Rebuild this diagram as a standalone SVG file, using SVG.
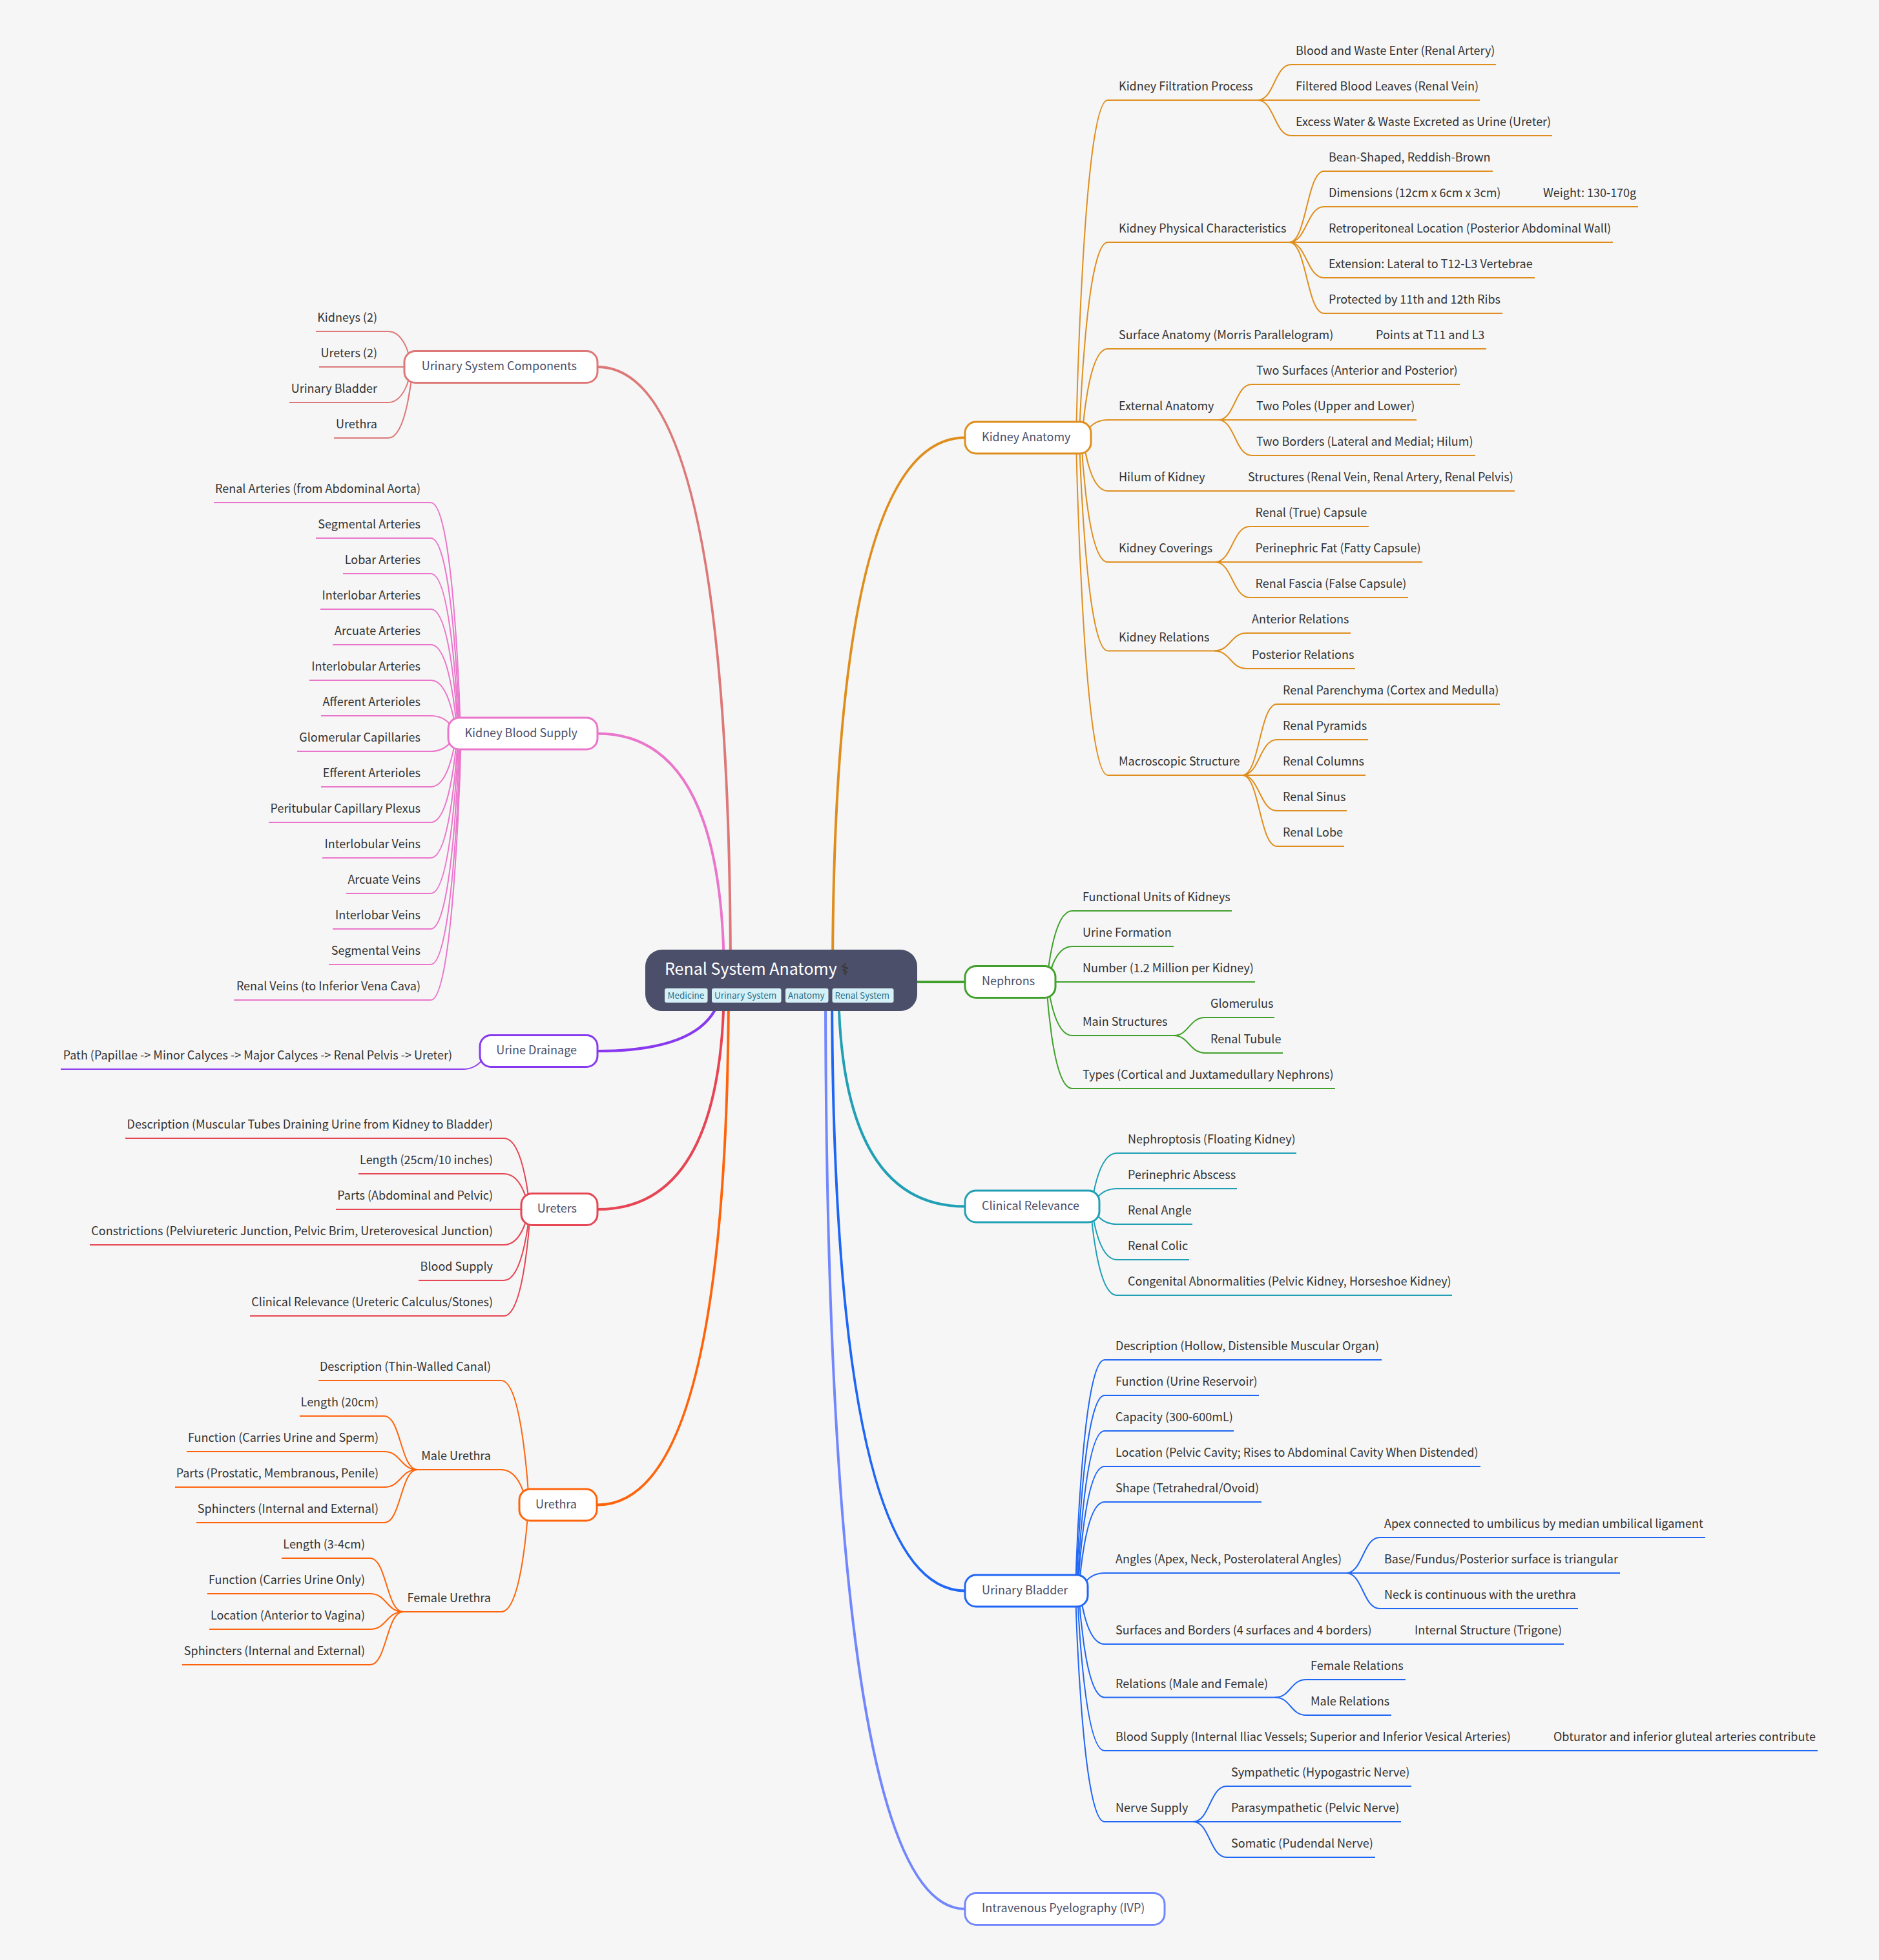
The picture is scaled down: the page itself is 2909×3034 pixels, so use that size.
<svg xmlns="http://www.w3.org/2000/svg" width="2909" height="3034" viewBox="0 0 2909 3034">
<style>
text{font-family:"Noto Sans CJK SC","Noto Sans CJK JP","DejaVu Sans",sans-serif;font-size:18px;fill:#333}
.e{text-anchor:end}
.m{fill:#4c4f69}
#conn path{fill:none;stroke-width:2}
#conn path.b{stroke-width:4}
.o{stroke:#df8e1d}.g{stroke:#40a02b}.c{stroke:#209fb5}.u{stroke:#1e66f5}.i{stroke:#7287fd}
.f{stroke:#dd7878}.p{stroke:#ea76cb}.v{stroke:#8839ef}.r{stroke:#e64553}.h{stroke:#fe640b}
rect.n{fill:#fff;stroke-width:3}
.tag{fill:#d6f0f8}.tt{font-size:13.500px;fill:#276f86}
</style>
<rect width="2909" height="3034" fill="#f6f6f6"/>
<g id="conn">
<g class="f"><path class="b" d="M1131 1517Q1131 568 925 568"/>
<path d="M637.4 568C637.4 568 630 513 601 513H489"/><path d="M637 568H494"/><path d="M637.4 568C637.4 568 630 623 601 623H448"/><path d="M638.7 568C638.7 568 631 678 601 678H517"/></g>
<g class="p"><path class="b" d="M1121 1517Q1121 1135.5 925 1135.5"/>
<path d="M713 1135.5C713 1135.5 704 778 667 778H331"/><path d="M711.5 1135.5C711.5 1135.5 703 833 667 833H489"/><path d="M710 1135.5C710 1135.5 701.5 888 667 888H531"/><path d="M709 1135.5C709 1135.5 700.5 943 667 943H496"/><path d="M707.5 1135.5C707.5 1135.5 699.5 998 667 998H515"/><path d="M706 1135.5C706 1135.5 698 1053 667 1053H479"/><path d="M705 1135.5C705 1135.5 697 1108 667 1108H497"/><path d="M705 1135.5C705 1135.5 697 1163 667 1163H460"/><path d="M706 1135.5C706 1135.5 698 1218 667 1218H497"/><path d="M707.5 1135.5C707.5 1135.5 699.5 1273 667 1273H416"/><path d="M709 1135.5C709 1135.5 700.5 1328 667 1328H499"/><path d="M710 1135.5C710 1135.5 701.5 1383 667 1383H536"/><path d="M711.5 1135.5C711.5 1135.5 703 1438 667 1438H515"/><path d="M713 1135.5C713 1135.5 704 1493 667 1493H509"/><path d="M714 1135.5C714 1135.5 704.6 1548 667 1548H362"/></g>
<g class="v"><path class="b" d="M1118 1517Q1118 1627 925 1627"/>
<path d="M753.7 1627C753.7 1627 746 1655 717 1655H94"/></g>
<g class="r"><path class="b" d="M1121 1517Q1121 1872 925 1872"/>
<path d="M820 1872C820 1872 812 1762 780 1762H194"/><path d="M818.4 1872C818.4 1872 811 1817 780 1817H555"/><path d="M818 1872H520"/><path d="M818.4 1872C818.4 1872 811 1927 780 1927H139"/><path d="M820 1872C820 1872 812 1982 780 1982H648"/><path d="M821 1872C821 1872 813 2037 780 2037H387"/></g>
<g class="h"><path class="b" d="M1128 1517Q1128 2329.5 925 2329.5"/>
<path d="M819 2329.5C819 2329.5 810 2137 776 2137H493"/><path d="M815.4 2329.5C815.4 2329.5 807.5 2275 776 2275H646"/><path d="M818 2329.5C818 2329.5 809.5 2495 776 2495H624"/>
<path d="M646 2275C620.5 2275 620.5 2192 595 2192H464"/><path d="M646 2275C620.5 2275 620.5 2247 595 2247H289"/><path d="M646 2275C620.5 2275 620.5 2302 595 2302H271"/><path d="M646 2275C620.5 2275 620.5 2357 595 2357H304"/>
<path d="M624 2495C598.5 2495 598.5 2412 573 2412H436"/><path d="M624 2495C598.5 2495 598.5 2467 573 2467H321"/><path d="M624 2495C598.5 2495 598.5 2522 573 2522H324"/><path d="M624 2495C598.5 2495 598.5 2577 573 2577H282"/></g>
<g class="o"><path class="b" d="M1289 1517Q1289 677.5 1494 677.5"/>
<path d="M1666 677.5C1666 677.5 1676 155 1715 155H1947"/><path d="M1671 677.5C1671 677.5 1680 375 1715 375H1996"/><path d="M1675.5 677.5C1675.5 677.5 1683 540 1715 540H2301"/><path d="M1678 677.5C1678 677.5 1685 650 1715 650H1886"/><path d="M1677 677.5C1677 677.5 1685 760 1715 760H2345"/><path d="M1674 677.5C1674 677.5 1682 870 1715 870H1881"/><path d="M1671 677.5C1671 677.5 1680 1007.5 1715 1007.5H1880"/><path d="M1666 677.5C1666 677.5 1676 1200 1715 1200H1923.5"/>
<path d="M1947 155C1973 155 1973 100 1999 100H2316"/><path d="M1947 155H2291"/><path d="M1947 155C1973 155 1973 210 1999 210H2403"/>
<path d="M1996 375C2023 375 2023 265 2050 265H2311"/><path d="M1996 375C2023 375 2023 320 2050 320H2536"/><path d="M1996 375H2497"/><path d="M1996 375C2023 375 2023 430 2050 430H2376"/><path d="M1996 375C2023 375 2023 485 2050 485H2326"/>
<path d="M1886 650C1912 650 1912 595 1938 595H2260"/><path d="M1886 650H2193"/><path d="M1886 650C1912 650 1912 705 1938 705H2284"/>
<path d="M1881 870C1908 870 1908 815 1935 815H2119"/><path d="M1881 870H2202"/><path d="M1881 870C1908 870 1908 925 1935 925H2180"/>
<path d="M1880 1007.5C1905 1007.5 1905 980 1930 980H2091"/><path d="M1880 1007.5C1905 1007.5 1905 1035 1930 1035H2098"/>
<path d="M1923.5 1200C1950 1200 1950 1090 1977 1090H2322"/><path d="M1923.5 1200C1950 1200 1950 1145 1977 1145H2118"/><path d="M1923.5 1200H2114"/><path d="M1923.5 1200C1950 1200 1950 1255 1977 1255H2085"/><path d="M1923.5 1200C1950 1200 1950 1310 1977 1310H2081"/></g>
<g class="g"><path class="b" d="M1300 1517Q1300 1520 1494 1520"/>
<path d="M1621 1520C1621 1520 1629 1410 1660 1410H1907"/><path d="M1622.6 1520C1622.6 1520 1630 1465 1660 1465H1817"/><path d="M1622 1520H1943"/><path d="M1622 1520C1622 1520 1630 1603 1660 1603H1817"/><path d="M1620 1520C1620 1520 1628 1685 1660 1685H2067"/>
<path d="M1817 1603C1841 1603 1841 1575 1866 1575H1973"/><path d="M1817 1603C1841 1603 1841 1630 1866 1630H1986"/></g>
<g class="c"><path class="b" d="M1298 1517Q1298 1867.5 1494 1867.5"/>
<path d="M1690 1867.5C1690 1867.5 1698 1785 1729 1785H2007"/><path d="M1691 1867.5C1691 1867.5 1699 1840 1729 1840H1915"/><path d="M1691 1867.5C1691 1867.5 1699 1895 1729 1895H1846"/><path d="M1690 1867.5C1690 1867.5 1698 1950 1729 1950H1841"/><path d="M1688.5 1867.5C1688.5 1867.5 1697 2005 1729 2005H2248"/></g>
<g class="u"><path class="b" d="M1288 1517Q1288 2462.5 1494 2462.5"/>
<path d="M1665 2462.5C1665 2462.5 1674 2105 1710 2105H2139"/><path d="M1666.5 2462.5C1666.5 2462.5 1675 2160 1710 2160H1949"/><path d="M1668 2462.5C1668 2462.5 1676.5 2215 1710 2215H1910"/><path d="M1669 2462.5C1669 2462.5 1677 2270 1710 2270H2292"/><path d="M1670.5 2462.5C1670.5 2462.5 1678 2325 1710 2325H1953"/><path d="M1673 2462.5C1673 2462.5 1680.5 2435 1710 2435H2084"/><path d="M1672 2462.5C1672 2462.5 1680 2545 1710 2545H2421"/><path d="M1670 2462.5C1670 2462.5 1678 2627.5 1710 2627.5H1974"/><path d="M1668 2462.5C1668 2462.5 1676.5 2710 1710 2710H2814"/><path d="M1665 2462.5C1665 2462.5 1674 2820 1710 2820H1847"/>
<path d="M2084 2435C2110 2435 2110 2380 2136 2380H2640"/><path d="M2084 2435H2508"/><path d="M2084 2435C2110 2435 2110 2490 2136 2490H2443"/>
<path d="M1974 2627.5C1998 2627.5 1998 2600 2022 2600H2176"/><path d="M1974 2627.5C1998 2627.5 1998 2655 2022 2655H2154"/>
<path d="M1847 2820C1873 2820 1873 2765 1899 2765H2185"/><path d="M1847 2820H2169"/><path d="M1847 2820C1873 2820 1873 2875 1899 2875H2129"/></g>
<g class="i"><path class="b" d="M1278 1517Q1278 2955 1494 2955"/></g>
</g>
<g id="root"><rect x="999" y="1470" width="421" height="95" rx="26" fill="#4c4f69"/>
<text x="1029" y="1509" style="font-size:25px;fill:#fff">Renal System Anatomy <tspan style="fill:#333">⚕</tspan></text>
<rect class="tag" x="1029" y="1530" width="66.500" height="22" rx="3"/><text class="tt" x="1033.500" y="1546">Medicine</text>
<rect class="tag" x="1102" y="1530" width="107.500" height="22" rx="3"/><text class="tt" x="1106" y="1546">Urinary System</text>
<rect class="tag" x="1216" y="1530" width="66.500" height="22" rx="3"/><text class="tt" x="1220" y="1546">Anatomy</text>
<rect class="tag" x="1288.500" y="1530" width="95" height="22" rx="3"/><text class="tt" x="1292.500" y="1546">Renal System</text></g>
<g id="kidney-anatomy"><rect class="n o" x="1494" y="653" width="195" height="49" rx="17"/><text class="m" x="1520" y="683">Kidney Anatomy</text></g>
<g id="nephrons"><rect class="n g" x="1494" y="1495.500" width="140" height="49" rx="17"/><text class="m" x="1520" y="1525">Nephrons</text></g>
<g id="clinical-relevance"><rect class="n c" x="1494" y="1843" width="208" height="49" rx="17"/><text class="m" x="1520" y="1872.500">Clinical Relevance</text></g>
<g id="urinary-bladder"><rect class="n u" x="1494" y="2438" width="190" height="49" rx="17"/><text class="m" x="1520" y="2467.500">Urinary Bladder</text></g>
<g id="ivp"><rect class="n i" x="1494" y="2930.500" width="309" height="49" rx="17"/><text class="m" x="1520" y="2960">Intravenous Pyelography (IVP)</text></g>
<g id="urinary-components"><rect class="n f" x="626" y="543.500" width="299" height="49" rx="17"/><text class="m e" x="893" y="573">Urinary System Components</text></g>
<g id="blood-supply"><rect class="n p" x="694" y="1111" width="231" height="49" rx="17"/><text class="m e" x="894" y="1140.500">Kidney Blood Supply</text></g>
<g id="urine-drainage"><rect class="n v" x="743" y="1602.500" width="182" height="49" rx="17"/><text class="m e" x="893" y="1632">Urine Drainage</text></g>
<g id="ureters"><rect class="n r" x="807" y="1847.500" width="118" height="49" rx="17"/><text class="m e" x="893" y="1877">Ureters</text></g>
<g id="urethra"><rect class="n h" x="804" y="2305" width="120" height="49" rx="17"/><text class="m e" x="893" y="2334.500">Urethra</text></g>
<g id="leaves-right-kidney">
<g id="k1"><text x="1732" y="140">Kidney Filtration Process</text></g>
<g id="k1a"><text x="2006" y="85">Blood and Waste Enter (Renal Artery)</text></g>
<g id="k1b"><text x="2006" y="140">Filtered Blood Leaves (Renal Vein)</text></g>
<g id="k1c"><text x="2006" y="195">Excess Water &amp; Waste Excreted as Urine (Ureter)</text></g>
<g id="k2"><text x="1732" y="360">Kidney Physical Characteristics</text></g>
<g id="k2a"><text x="2057" y="250">Bean-Shaped, Reddish-Brown</text></g>
<g id="k2b"><text x="2057" y="305">Dimensions (12cm x 6cm x 3cm)</text></g>
<g id="k2b1"><text x="2389" y="305">Weight: 130-170g</text></g>
<g id="k2c"><text x="2057" y="360">Retroperitoneal Location (Posterior Abdominal Wall)</text></g>
<g id="k2d"><text x="2057" y="415">Extension: Lateral to T12-L3 Vertebrae</text></g>
<g id="k2e"><text x="2057" y="470">Protected by 11th and 12th Ribs</text></g>
<g id="k3"><text x="1732" y="525">Surface Anatomy (Morris Parallelogram)</text></g>
<g id="k3a"><text x="2130" y="525">Points at T11 and L3</text></g>
<g id="k4"><text x="1732" y="635">External Anatomy</text></g>
<g id="k4a"><text x="1945" y="580">Two Surfaces (Anterior and Posterior)</text></g>
<g id="k4b"><text x="1945" y="635">Two Poles (Upper and Lower)</text></g>
<g id="k4c"><text x="1945" y="690">Two Borders (Lateral and Medial; Hilum)</text></g>
<g id="k5"><text x="1732" y="745">Hilum of Kidney</text></g>
<g id="k5a"><text x="1932" y="745">Structures (Renal Vein, Renal Artery, Renal Pelvis)</text></g>
<g id="k6"><text x="1732" y="855">Kidney Coverings</text></g>
<g id="k6a"><text x="1943.500" y="800">Renal (True) Capsule</text></g>
<g id="k6b"><text x="1943.500" y="855">Perinephric Fat (Fatty Capsule)</text></g>
<g id="k6c"><text x="1943.500" y="910">Renal Fascia (False Capsule)</text></g>
<g id="k7"><text x="1732" y="992.500">Kidney Relations</text></g>
<g id="k7a"><text x="1938" y="965">Anterior Relations</text></g>
<g id="k7b"><text x="1938" y="1020">Posterior Relations</text></g>
<g id="k8"><text x="1732" y="1185">Macroscopic Structure</text></g>
<g id="k8a"><text x="1986" y="1075">Renal Parenchyma (Cortex and Medulla)</text></g>
<g id="k8b"><text x="1986" y="1130">Renal Pyramids</text></g>
<g id="k8c"><text x="1986" y="1185">Renal Columns</text></g>
<g id="k8d"><text x="1986" y="1240">Renal Sinus</text></g>
<g id="k8e"><text x="1986" y="1295">Renal Lobe</text></g>
</g>
<g id="leaves-right-nephrons">
<g id="n1"><text x="1676" y="1395">Functional Units of Kidneys</text></g>
<g id="n2"><text x="1676" y="1450">Urine Formation</text></g>
<g id="n3"><text x="1676" y="1505">Number (1.2 Million per Kidney)</text></g>
<g id="n4"><text x="1676" y="1588">Main Structures</text></g>
<g id="n4a"><text x="1874" y="1560">Glomerulus</text></g>
<g id="n4b"><text x="1874" y="1615">Renal Tubule</text></g>
<g id="n5"><text x="1676" y="1670">Types (Cortical and Juxtamedullary Nephrons)</text></g>
</g>
<g id="leaves-right-clinical">
<g id="c1"><text x="1746" y="1770">Nephroptosis (Floating Kidney)</text></g>
<g id="c2"><text x="1746" y="1825">Perinephric Abscess</text></g>
<g id="c3"><text x="1746" y="1880">Renal Angle</text></g>
<g id="c4"><text x="1746" y="1935">Renal Colic</text></g>
<g id="c5"><text x="1746" y="1990">Congenital Abnormalities (Pelvic Kidney, Horseshoe Kidney)</text></g>
</g>
<g id="leaves-right-bladder">
<g id="b1"><text x="1727" y="2090">Description (Hollow, Distensible Muscular Organ)</text></g>
<g id="b2"><text x="1727" y="2145">Function (Urine Reservoir)</text></g>
<g id="b3"><text x="1727" y="2200">Capacity (300-600mL)</text></g>
<g id="b4"><text x="1727" y="2255">Location (Pelvic Cavity; Rises to Abdominal Cavity When Distended)</text></g>
<g id="b5"><text x="1727" y="2310">Shape (Tetrahedral/Ovoid)</text></g>
<g id="b6"><text x="1727" y="2420">Angles (Apex, Neck, Posterolateral Angles)</text></g>
<g id="b6a"><text x="2143" y="2365">Apex connected to umbilicus by median umbilical ligament</text></g>
<g id="b6b"><text x="2143" y="2420">Base/Fundus/Posterior surface is triangular</text></g>
<g id="b6c"><text x="2143" y="2475">Neck is continuous with the urethra</text></g>
<g id="b7"><text x="1727" y="2530">Surfaces and Borders (4 surfaces and 4 borders)</text></g>
<g id="b7a"><text x="2190" y="2530">Internal Structure (Trigone)</text></g>
<g id="b8"><text x="1727" y="2612.500">Relations (Male and Female)</text></g>
<g id="b8a"><text x="2029" y="2585">Female Relations</text></g>
<g id="b8b"><text x="2029" y="2640">Male Relations</text></g>
<g id="b9"><text x="1727" y="2695">Blood Supply (Internal Iliac Vessels; Superior and Inferior Vesical Arteries)</text></g>
<g id="b9a"><text x="2405" y="2695">Obturator and inferior gluteal arteries contribute</text></g>
<g id="b10"><text x="1727" y="2805">Nerve Supply</text></g>
<g id="b10a"><text x="1906" y="2750">Sympathetic (Hypogastric Nerve)</text></g>
<g id="b10b"><text x="1906" y="2805">Parasympathetic (Pelvic Nerve)</text></g>
<g id="b10c"><text x="1906" y="2860">Somatic (Pudendal Nerve)</text></g>
</g>
<g id="leaves-left-components">
<g id="f1"><text class="e" x="584" y="498">Kidneys (2)</text></g>
<g id="f2"><text class="e" x="584" y="553">Ureters (2)</text></g>
<g id="f3"><text class="e" x="584" y="608">Urinary Bladder</text></g>
<g id="f4"><text class="e" x="584" y="663">Urethra</text></g>
</g>
<g id="leaves-left-blood">
<g id="s1"><text class="e" x="651" y="763">Renal Arteries (from Abdominal Aorta)</text></g>
<g id="s2"><text class="e" x="651" y="818">Segmental Arteries</text></g>
<g id="s3"><text class="e" x="651" y="873">Lobar Arteries</text></g>
<g id="s4"><text class="e" x="651" y="928">Interlobar Arteries</text></g>
<g id="s5"><text class="e" x="651" y="983">Arcuate Arteries</text></g>
<g id="s6"><text class="e" x="651" y="1038">Interlobular Arteries</text></g>
<g id="s7"><text class="e" x="651" y="1093">Afferent Arterioles</text></g>
<g id="s8"><text class="e" x="651" y="1148">Glomerular Capillaries</text></g>
<g id="s9"><text class="e" x="651" y="1203">Efferent Arterioles</text></g>
<g id="s10"><text class="e" x="651" y="1258">Peritubular Capillary Plexus</text></g>
<g id="s11"><text class="e" x="651" y="1313">Interlobular Veins</text></g>
<g id="s12"><text class="e" x="651" y="1368">Arcuate Veins</text></g>
<g id="s13"><text class="e" x="651" y="1423">Interlobar Veins</text></g>
<g id="s14"><text class="e" x="651" y="1478">Segmental Veins</text></g>
<g id="s15"><text class="e" x="651" y="1533">Renal Veins (to Inferior Vena Cava)</text></g>
</g>
<g id="leaves-left-drainage"><g id="d1"><text class="e" x="700" y="1640">Path (Papillae -&gt; Minor Calyces -&gt; Major Calyces -&gt; Renal Pelvis -&gt; Ureter)</text></g></g>
<g id="leaves-left-ureters">
<g id="r1"><text class="e" x="763" y="1747">Description (Muscular Tubes Draining Urine from Kidney to Bladder)</text></g>
<g id="r2"><text class="e" x="763" y="1802">Length (25cm/10 inches)</text></g>
<g id="r3"><text class="e" x="763" y="1857">Parts (Abdominal and Pelvic)</text></g>
<g id="r4"><text class="e" x="763" y="1912">Constrictions (Pelviureteric Junction, Pelvic Brim, Ureterovesical Junction)</text></g>
<g id="r5"><text class="e" x="763" y="1967">Blood Supply</text></g>
<g id="r6"><text class="e" x="763" y="2022">Clinical Relevance (Ureteric Calculus/Stones)</text></g>
</g>
<g id="leaves-left-urethra">
<g id="h1"><text class="e" x="760" y="2122">Description (Thin-Walled Canal)</text></g>
<g id="h2"><text class="e" x="760" y="2260">Male Urethra</text></g>
<g id="h2a"><text class="e" x="586" y="2177">Length (20cm)</text></g>
<g id="h2b"><text class="e" x="586" y="2232">Function (Carries Urine and Sperm)</text></g>
<g id="h2c"><text class="e" x="586" y="2287">Parts (Prostatic, Membranous, Penile)</text></g>
<g id="h2d"><text class="e" x="586" y="2342">Sphincters (Internal and External)</text></g>
<g id="h3"><text class="e" x="760" y="2480">Female Urethra</text></g>
<g id="h3a"><text class="e" x="565" y="2397">Length (3-4cm)</text></g>
<g id="h3b"><text class="e" x="565" y="2452">Function (Carries Urine Only)</text></g>
<g id="h3c"><text class="e" x="565" y="2507">Location (Anterior to Vagina)</text></g>
<g id="h3d"><text class="e" x="565" y="2562">Sphincters (Internal and External)</text></g>
</g>
</svg>
